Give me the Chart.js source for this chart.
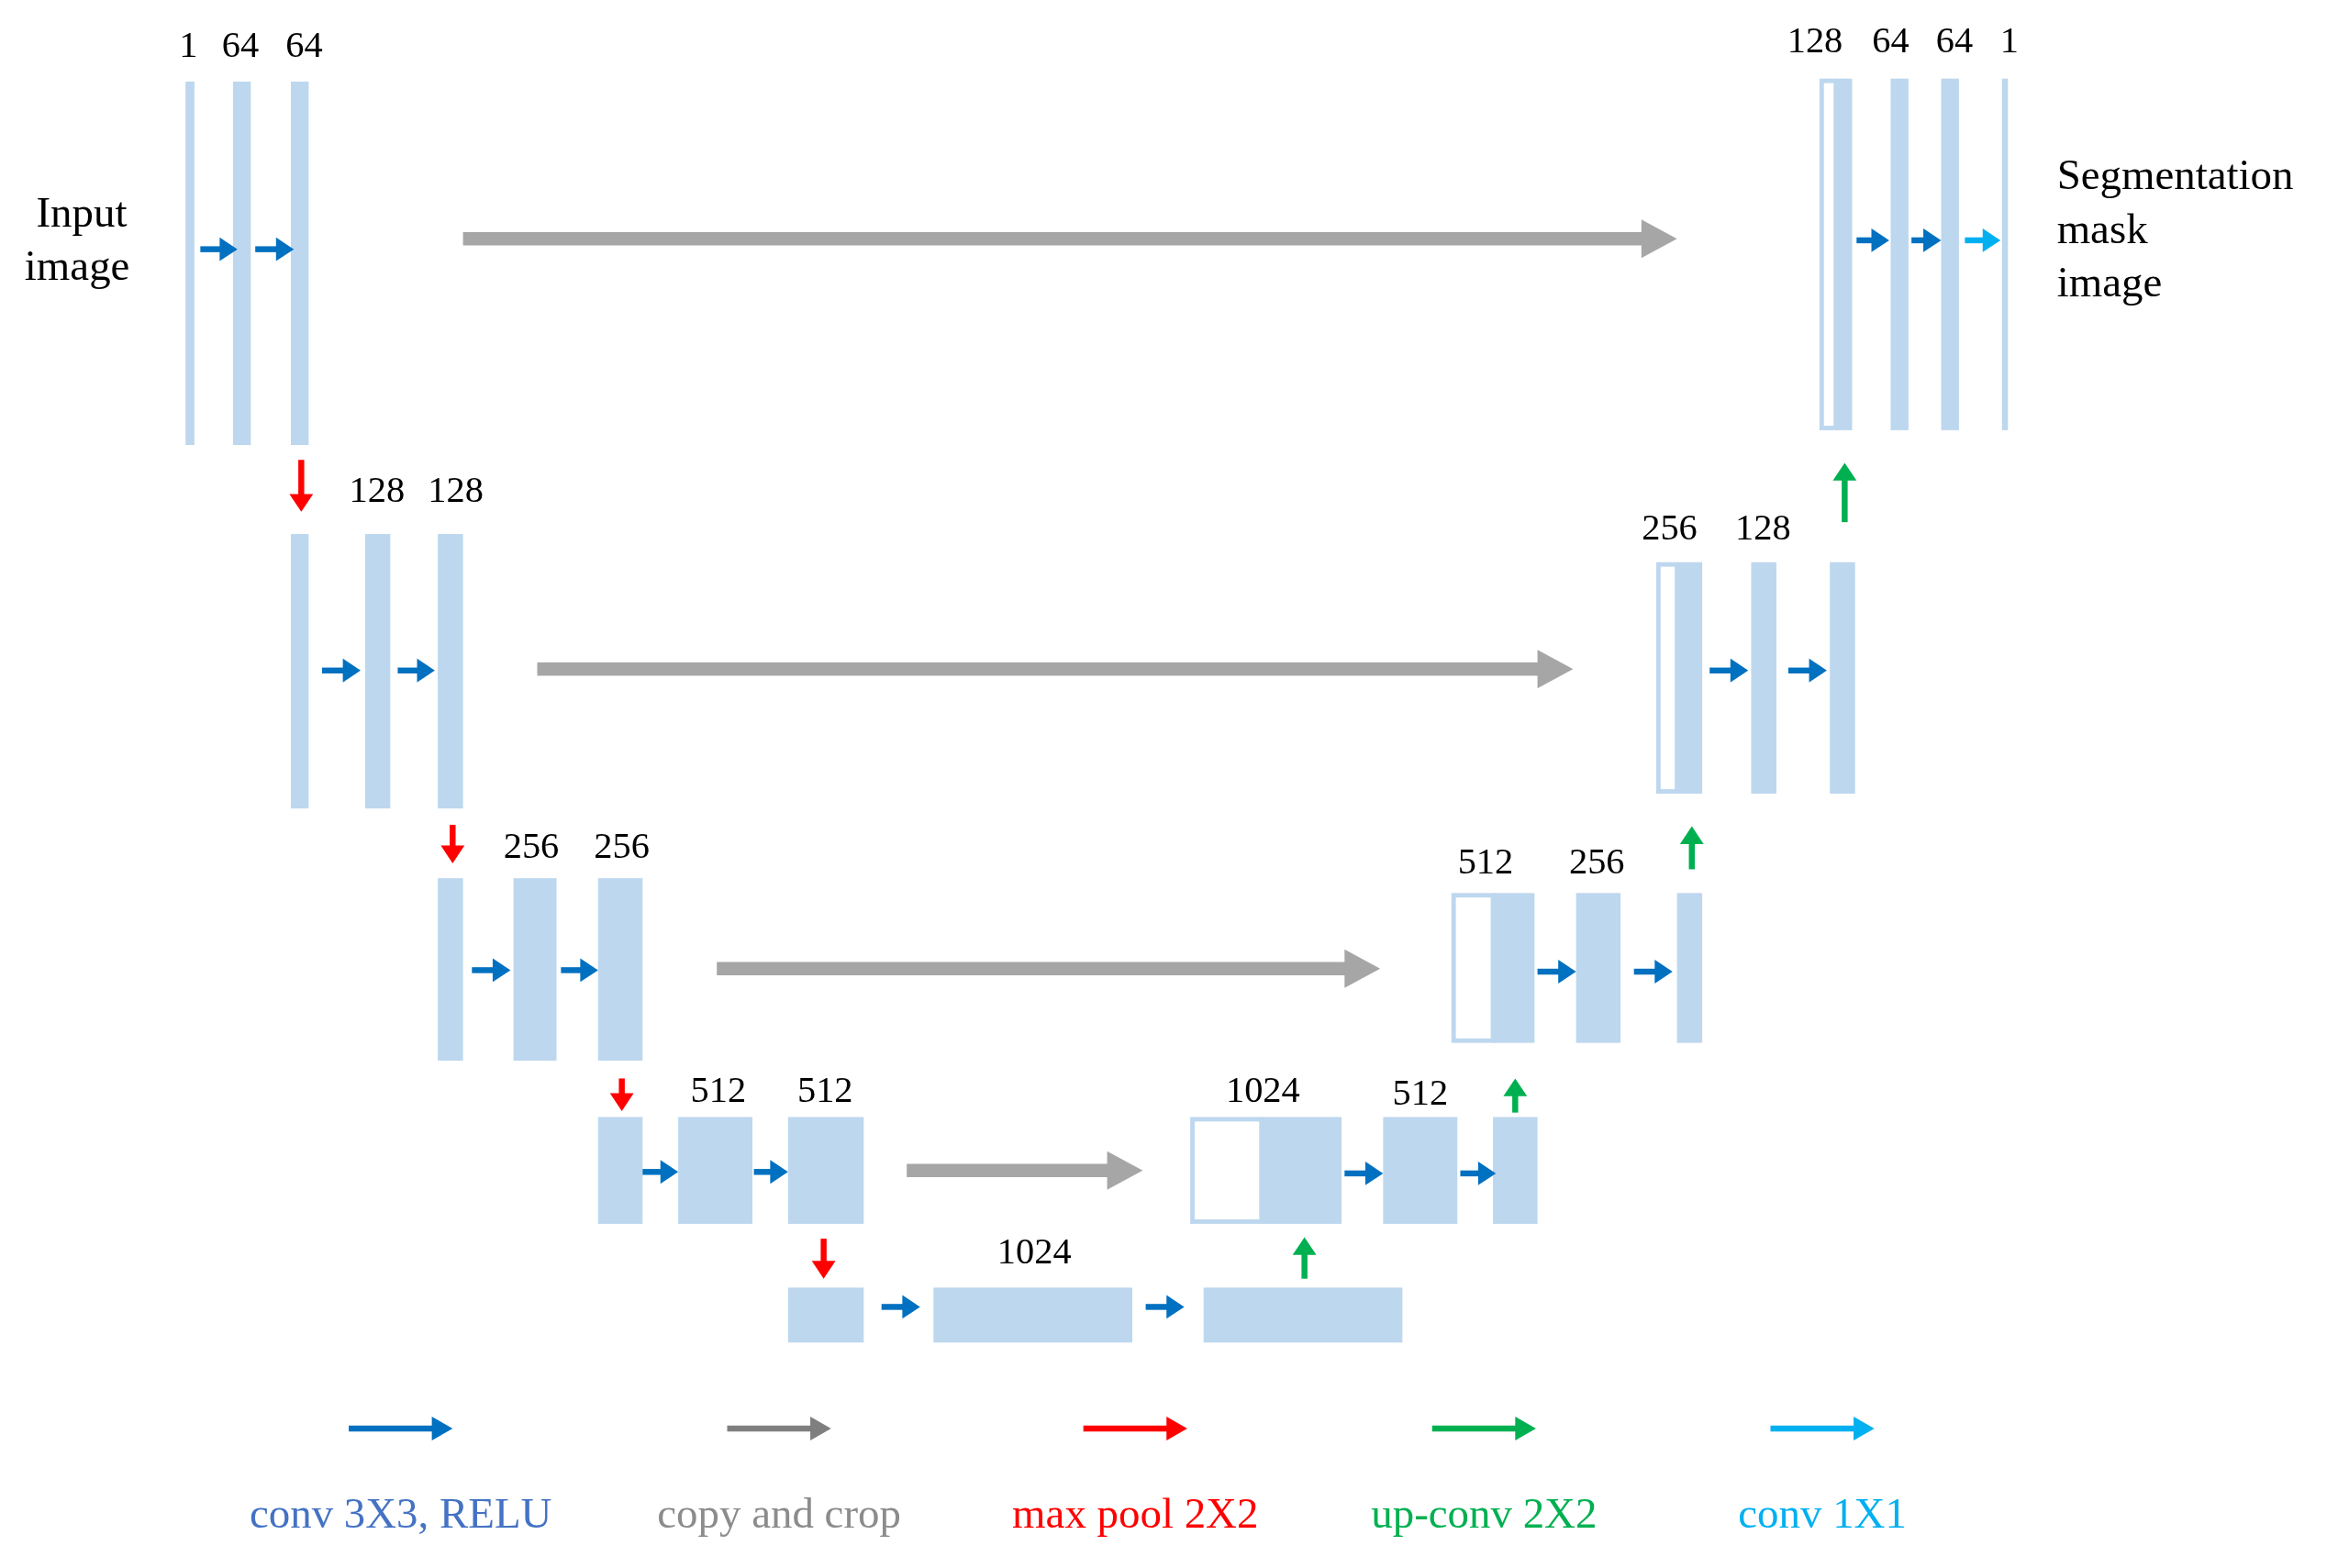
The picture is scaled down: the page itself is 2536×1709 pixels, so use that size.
<!DOCTYPE html>
<html><head><meta charset="utf-8">
<script src="https://cdn.jsdelivr.net/npm/chart.js@4/dist/chart.umd.min.js"></script>
<style>html,body{margin:0;padding:0;background:#fff}#w{width:2536px;height:1709px}</style>
</head><body><div id="w"><canvas id="c"></canvas></div>
<script>
// feature-map blocks [x0,x1,y0,y1] in diagram units
const filledBlocks = [
 [125,131,55,300],[157,169,55,300],[196,208,55,300],
 [196,208,360,545],[246,263,360,545],[295,312,360,545],
 [295,312,592,715],[346,375,592,715],[403,433,592,715],
 [403,433,753,825],[457,507,753,825],[531,582,753,825],
 [531,582,868,905],[629,763,868,905],[811,945,868,905],
 [850,904,753,825],[932,982,753,825],[1006,1036,753,825],
 [1006,1034,602,703],[1062,1092,602,703],[1130,1147,602,703],
 [1130,1147,379,535],[1180,1197,379,535],[1233,1250,379,535],
 [1237,1248,53,290],[1274,1286,53,290],[1308,1320,53,290],[1349,1353,53,290]
];
const copiedBlocks = [[802,850,753,825],[978,1006,602,703],[1116,1130,379,535],[1226,1237,53,290]];
// arrows [x0,y0,x1,y1]
const convArrows = [[135,168,160,168],[172,168,198,168],[217,452,243,452],[268,452,293,452],
 [318,654,344,654],[378,654,403,654],[433,790,457,790],[508,790,531,790],
 [594,881,620,881],[772,881,798,881],[906,791,932,791],[984,791,1008,791],
 [1036,655,1062,655],[1101,655,1127,655],[1152,452,1178,452],[1205,452,1231,452],
 [1251,162,1273,162],[1288,162,1308,162]];
const conv1Arrows = [[1324,162,1348,162]];
const copyArrows = [[312,161,1130,161],[362,451,1060,451],[483,653,930,653],[611,789,770,789]];
const poolArrows = [[203,310,203,345],[305,556,305,582],[419,727,419,749],[555,835,555,862]];
const upArrows = [[1243,352,1243,312],[1140,586,1140,557],[1021,750,1021,727],[879,862,879,834]];
const channelLabels = [["1",127,32],["64",162,32],["64",205,32],["128",254,332],["128",307,332],
 ["256",358,572],["256",419,572],["512",484,736],["512",556,736],["1024",697,845],["1024",851,736],
 ["512",957,738],["512",1001,582],["256",1076,582],["256",1125,357],["128",1188,357],
 ["128",1223,29],["64",1274,29],["64",1317,29],["1",1354,29]];
const legendNames = ["conv 3X3, RELU","copy and crop","max pool 2X2","up-conv 2X2","conv 1X1"];
const legendX = [270,525,765,1000,1228];
const legendColors = ["#4472C4","#8C8C8C","#FF0000","#00B050","#00B0F0"];
const legendArrowColors = ["#0070C0","#7F7F7F","#FF0000","#00B050","#00B0F0"];

const S = 2536/1568;
const serif = '"Liberation Serif","DejaVu Serif",serif';
const plugin = {id:'unet',afterDatasetsDraw(chart){
  const ctx=chart.ctx, X=v=>chart.scales.x.getPixelForValue(v), Y=v=>chart.scales.y.getPixelForValue(v);
  ctx.save();
  ctx.fillStyle='#BDD7EE';
  filledBlocks.forEach(b=>ctx.fillRect(X(b[0]),Y(b[2]),X(b[1])-X(b[0]),Y(b[3])-Y(b[2])));
  ctx.strokeStyle='#BDD7EE';ctx.lineWidth=3*S;ctx.fillStyle='#fff';
  copiedBlocks.forEach(b=>{const x=X(b[0])+1.5*S,y=Y(b[2])+1.5*S,w=X(b[1])-X(b[0])-1.5*S,h=Y(b[3])-Y(b[2])-3*S;ctx.fillRect(x,y,w,h);ctx.strokeRect(x,y,w,h);});
  function arrow(a,col,th,hl,hw){
    const x0=X(a[0]),y0=Y(a[1]),x1=X(a[2]),y1=Y(a[3]);
    const dx=x1-x0,dy=y1-y0,L=Math.hypot(dx,dy),ux=dx/L,uy=dy/L;
    const bx=x1-ux*hl*S,by=y1-uy*hl*S;
    ctx.strokeStyle=col;ctx.fillStyle=col;ctx.lineWidth=th*S;ctx.lineCap='butt';
    ctx.beginPath();ctx.moveTo(x0,y0);ctx.lineTo(bx+ux,by+uy);ctx.stroke();
    ctx.beginPath();ctx.moveTo(x1,y1);ctx.lineTo(bx-uy*hw*S,by+ux*hw*S);ctx.lineTo(bx+uy*hw*S,by-ux*hw*S);ctx.closePath();ctx.fill();
  }
  convArrows.forEach(a=>arrow(a,'#0070C0',4,12,8));
  conv1Arrows.forEach(a=>arrow(a,'#00B0F0',4,12,8));
  copyArrows.forEach(a=>arrow(a,'#A6A6A6',9,24,13));
  poolArrows.forEach(a=>arrow(a,'#FF0000',4,12,8));
  upArrows.forEach(a=>arrow(a,'#00B050',4,12,8));
  legendX.forEach((x,i)=>arrow([x-35,963,x+35,963],legendArrowColors[i],4,14,8));
  ctx.textAlign='center';ctx.textBaseline='middle';ctx.fillStyle='#000';
  ctx.font=(25*S)+'px '+serif;
  channelLabels.forEach(l=>ctx.fillText(l[0],X(l[1]),Y(l[2])));
  ctx.font=(29*S)+'px '+serif;
  ctx.fillText('Input',X(55),Y(145));ctx.fillText('image',X(52),Y(181));
  ctx.textAlign='left';
  ['Segmentation','mask','image'].forEach((t,i)=>ctx.fillText(t,X(1386),Y(120+36*i)));
  ctx.textAlign='center';
  legendNames.forEach((t,i)=>{ctx.fillStyle=legendColors[i];ctx.fillText(t,X(legendX[i]),Y(1022));});
  ctx.restore();
}};
new Chart(document.getElementById('c'),{type:'scatter',data:{datasets:[{data:[]}]},
 options:{responsive:true,maintainAspectRatio:false,animation:false,layout:{padding:0},
  plugins:{legend:{display:false},tooltip:{enabled:false}},
  scales:{x:{type:'linear',min:0,max:1568,display:false},y:{type:'linear',min:0,max:1057,reverse:true,display:false}}},
 plugins:[plugin]});
</script></body></html>
